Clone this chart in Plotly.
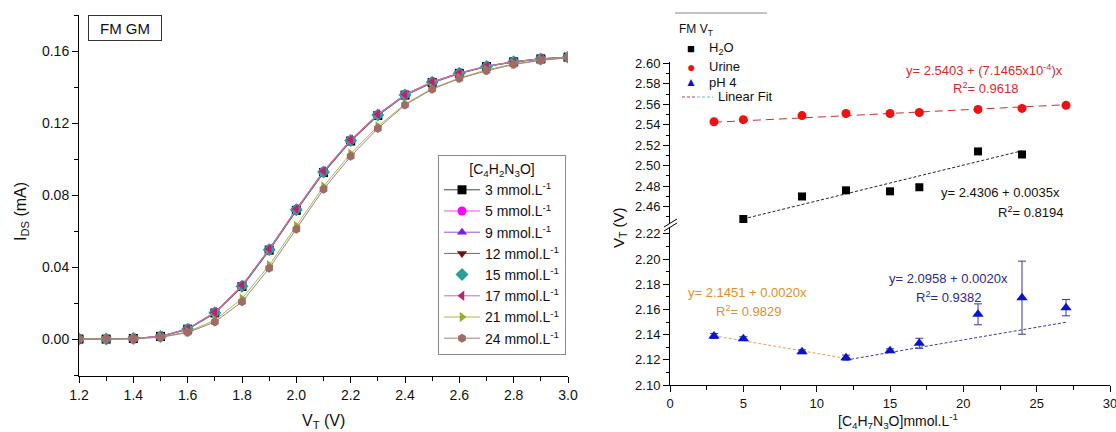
import plotly.graph_objects as go
import numpy as np

# ---------------- Left panel data: I_DS vs V_T ----------------
V = [1.2, 1.3, 1.4, 1.5, 1.6, 1.7, 1.8, 1.9, 2.0, 2.1, 2.2, 2.3, 2.4, 2.5, 2.6, 2.7, 2.8, 2.9, 3.0]
ids_3 = [0.0000, 0.0000, 0.0003, 0.0015, 0.0055, 0.0145, 0.0292, 0.0494, 0.0715, 0.0925, 0.1100, 0.1242, 0.1355, 0.1425, 0.1476, 0.1514, 0.1540, 0.1556, 0.1566]
ids_5 = [0.0000, 0.0000, 0.0003, 0.0016, 0.0058, 0.0150, 0.0298, 0.0500, 0.0722, 0.0932, 0.1106, 0.1248, 0.1359, 0.1429, 0.1478, 0.1516, 0.1541, 0.1557, 0.1566]
ids_9 = [0.0000, 0.0000, 0.0003, 0.0015, 0.0056, 0.0148, 0.0296, 0.0498, 0.0720, 0.0930, 0.1104, 0.1246, 0.1357, 0.1427, 0.1477, 0.1515, 0.1540, 0.1556, 0.1566]
ids_12 = [0.0000, 0.0000, 0.0003, 0.0014, 0.0053, 0.0142, 0.0288, 0.0490, 0.0712, 0.0922, 0.1097, 0.1240, 0.1352, 0.1423, 0.1474, 0.1513, 0.1539, 0.1555, 0.1565]
ids_15 = [0.0000, 0.0000, 0.0003, 0.0015, 0.0055, 0.0146, 0.0294, 0.0496, 0.0718, 0.0928, 0.1103, 0.1244, 0.1355, 0.1426, 0.1476, 0.1514, 0.1540, 0.1556, 0.1566]
ids_17 = [0.0000, 0.0000, 0.0003, 0.0016, 0.0057, 0.0149, 0.0299, 0.0501, 0.0723, 0.0933, 0.1107, 0.1249, 0.1358, 0.1428, 0.1477, 0.1516, 0.1541, 0.1557, 0.1566]
ids_21 = [0.0000, 0.0000, 0.0002, 0.0011, 0.0040, 0.0105, 0.0225, 0.0410, 0.0628, 0.0848, 0.1030, 0.1182, 0.1305, 0.1392, 0.1450, 0.1495, 0.1528, 0.1550, 0.1563]
ids_24 = [0.0000, 0.0000, 0.0002, 0.0010, 0.0036, 0.0095, 0.0207, 0.0393, 0.0610, 0.0832, 0.1015, 0.1170, 0.1300, 0.1388, 0.1447, 0.1490, 0.1525, 0.1548, 0.1562]

series_names = ["3 mmol.L<sup>-1</sup>", "5 mmol.L<sup>-1</sup>", "9 mmol.L<sup>-1</sup>", "12 mmol.L<sup>-1</sup>",
                "15 mmol.L<sup>-1</sup>", "17 mmol.L<sup>-1</sup>", "21 mmol.L<sup>-1</sup>", "24 mmol.L<sup>-1</sup>"]
series_values = [ids_3, ids_5, ids_9, ids_12, ids_15, ids_17, ids_21, ids_24]

# ---------------- Right panel data: V_T vs concentration ----------------
h2o_conc = [5, 9, 12, 15, 17, 21, 24]
h2o_vt = [2.448, 2.470, 2.476, 2.475, 2.479, 2.514, 2.511]

urine_conc = [3, 5, 9, 12, 15, 17, 21, 24, 27]
urine_vt = [2.543, 2.545, 2.549, 2.551, 2.551, 2.552, 2.555, 2.556, 2.559]

ph4_conc = [3, 5, 9, 12, 15, 17, 21, 24, 27]
ph4_vt = [2.1389, 2.1368, 2.1264, 2.1217, 2.1272, 2.1331, 2.1561, 2.1693, 2.1614]
ph4_err = [0.0020, 0.0015, 0.0015, 0.0020, 0.0015, 0.0040, 0.0083, 0.0290, 0.0065]

# Linear fits (intercept, slope, x-span)
urine_fit = (2.5403, 7.1465e-4, [3, 27])
h2o_fit = (2.4306, 0.0035, [5, 24])
ph4_fit_low = (2.1451, -0.0020, [3, 12])
ph4_fit_high = (2.0958, 0.0020, [12, 27])

W, H = 1116, 432
FONT = "Arial, Liberation Sans, Helvetica, sans-serif"


def px(x):
    return x / W


def py(y):
    return 1 - y / H


fig = go.Figure()

# ---------------- Left panel traces ----------------
styles = [
    ("square", "#000000", "#444444"),
    ("circle", "#ff00ff", "#ff44ff"),
    ("triangle-up", "#7b1fe0", "#9a55d0"),
    ("triangle-down", "#7a0c0c", "#a05050"),
    ("diamond", "#2a9d9d", "#55aaaa"),
    ("triangle-left", "#c0206e", "#d070a0"),
    ("triangle-right", "#9aaa2a", "#a8b850"),
    ("hexagon", "#a06c68", "#a08080"),
]
for name, vals, (sym, mc, lc) in zip(series_names, series_values, styles):
    if sym == "diamond":
        fig.add_trace(go.Scatter(x=V, y=vals, mode="lines", line=dict(color=lc, width=1),
                                 showlegend=False, xaxis="x", yaxis="y", hoverinfo="skip"))
        fig.add_trace(go.Scatter(x=V, y=vals, mode="markers", name=name,
                                 marker=dict(symbol=sym, size=10, color=mc),
                                 xaxis="x", yaxis="y"))
    else:
        fig.add_trace(go.Scatter(x=V, y=vals, mode="lines+markers", name=name,
                                 marker=dict(symbol=sym, size=9, color=mc),
                                 line=dict(color=lc, width=1), xaxis="x", yaxis="y"))

# ---------------- Right panel traces ----------------
def fit_xy(fit):
    a, b, span = fit
    xs = np.array(span, dtype=float)
    return xs, a + b * xs


fx, fy = fit_xy(urine_fit)
fig.add_trace(go.Scatter(x=fx, y=fy, mode="lines", line=dict(color="#c83030", width=1, dash="8px,5px"),
                         showlegend=False, xaxis="x2", yaxis="y3"))
fx, fy = fit_xy(h2o_fit)
fig.add_trace(go.Scatter(x=fx, y=fy, mode="lines", line=dict(color="#222222", width=1, dash="3px,2px"),
                         showlegend=False, xaxis="x2", yaxis="y3"))
fx, fy = fit_xy(ph4_fit_low)
fig.add_trace(go.Scatter(x=fx, y=fy, mode="lines", line=dict(color="#e0a050", width=1, dash="3px,2px"),
                         showlegend=False, xaxis="x2", yaxis="y2"))
fx, fy = fit_xy(ph4_fit_high)
fig.add_trace(go.Scatter(x=fx, y=fy, mode="lines", line=dict(color="#3a3aa0", width=1, dash="3px,2px"),
                         showlegend=False, xaxis="x2", yaxis="y2"))

fig.add_trace(go.Scatter(x=h2o_conc, y=h2o_vt, mode="markers", name="H<sub>2</sub>O",
                         marker=dict(symbol="square", size=8, color="#000000"), cliponaxis=False,
                         showlegend=False, xaxis="x2", yaxis="y3"))
fig.add_trace(go.Scatter(x=urine_conc, y=urine_vt, mode="markers", name="Urine",
                         marker=dict(symbol="circle", size=9, color="#ee1111"),
                         showlegend=False, xaxis="x2", yaxis="y3"))
fig.add_trace(go.Scatter(x=ph4_conc, y=ph4_vt, mode="markers", name="pH 4",
                         marker=dict(symbol="triangle-up", size=10, color="#0a14d0"),
                         error_y=dict(type="data", array=ph4_err, color="#3a3a9a", thickness=1, width=4),
                         showlegend=False, xaxis="x2", yaxis="y2"))

axis_common = dict(showline=True, linecolor="black", linewidth=1, showgrid=False, zeroline=False,
                   ticks="outside", ticklen=6, tickcolor="black", tickwidth=1, automargin=False,
                   ticklabeloverflow="allow")

fig.update_layout(
    template="none",
    width=W, height=H, autosize=False,
    margin=dict(l=0, r=0, t=0, b=0, autoexpand=False),
    paper_bgcolor="white", plot_bgcolor="white",
    font=dict(family=FONT, color="#111111"),
    xaxis=dict(domain=[px(79), px(568)], range=[1.2, 3.0], tick0=1.2, dtick=0.2, tickformat=".1f",
               anchor="y", tickfont=dict(size=14),
               minor=dict(dtick=0.1, ticks="outside", ticklen=4, tickcolor="black"), **axis_common),
    yaxis=dict(domain=[py(376), py(15)], range=[-0.0205, 0.1800], tick0=0, dtick=0.04, tickformat=".2f",
               anchor="x", tickfont=dict(size=14),
               minor=dict(dtick=0.02, ticks="outside", ticklen=4, tickcolor="black"), **axis_common),
    xaxis2=dict(domain=[px(670), px(1110)], range=[0, 30], tick0=0, dtick=5, anchor="y2",
                tickfont=dict(size=13),
                minor=dict(dtick=2.5, ticks="outside", ticklen=4, tickcolor="black"), **axis_common),
    yaxis2=dict(domain=[py(385), py(227)], range=[2.10, 2.2254], tick0=2.10, dtick=0.02, tickformat=".2f",
                anchor="x2", tickfont=dict(size=13),
                minor=dict(dtick=0.01, ticks="outside", ticklen=3, tickcolor="black"), **axis_common),
    yaxis3=dict(domain=[py(223), py(62.3)], range=[2.4441, 2.601], tick0=2.46, dtick=0.02, tickformat=".2f",
                anchor="x2", tickfont=dict(size=13),
                minor=dict(dtick=0.01, ticks="outside", ticklen=3, tickcolor="black"), **axis_common),
    legend=dict(x=px(438), y=py(155), xanchor="left", yanchor="top",
                bordercolor="#8a8a8a", borderwidth=1, bgcolor="white",
                font=dict(size=14, family=FONT, color="#111111"),
                title=dict(text="[C<sub>4</sub>H<sub>2</sub>N<sub>3</sub>O]", side="top center",
                           font=dict(size=14, family=FONT)),
                itemwidth=36,
                tracegroupgap=0),
)

ann = []
# Axis titles
ann.append(dict(text="I<sub>DS</sub> (mA)", x=px(22), y=py(212), textangle=-90, font=dict(size=16)))
ann.append(dict(text="V<sub>T</sub> (V)", x=px(323), y=py(421), font=dict(size=16)))
ann.append(dict(text="V<sub>T</sub> (V)", x=px(619), y=py(228), textangle=-90, font=dict(size=15)))
ann.append(dict(text="[C<sub>4</sub>H<sub>7</sub>N<sub>3</sub>O]mmol.L<sup>-1</sup>", x=px(898), y=py(421),
                font=dict(size=14)))
# FM GM label box
ann.append(dict(text="FM GM", x=px(125), y=py(28), font=dict(size=15), bordercolor="#333333",
                borderwidth=1, width=70, height=22, bgcolor="white"))
# Right legend (manual)
ann.append(dict(text="FM V<sub>T</sub>", x=px(677), y=py(30), xanchor="left", font=dict(size=12)))
ann.append(dict(text="■", x=px(691), y=py(48), font=dict(size=13, color="#000000")))
ann.append(dict(text="H<sub>2</sub>O", x=px(707), y=py(48), xanchor="left", font=dict(size=13)))
ann.append(dict(text="●", x=px(691), y=py(67), font=dict(size=14, color="#ee1111")))
ann.append(dict(text="Urine", x=px(707), y=py(67), xanchor="left", font=dict(size=13)))
ann.append(dict(text="▲", x=px(691), y=py(82), font=dict(size=12, color="#0a14d0")))
ann.append(dict(text="pH 4", x=px(707), y=py(82), xanchor="left", font=dict(size=13)))
ann.append(dict(text="Linear Fit", x=px(716), y=py(97), xanchor="left", font=dict(size=13)))
# Fit equations
ann.append(dict(text="y= 2.5403 + (7.1465x10<sup>-4</sup>)x", x=px(984), y=py(70), font=dict(size=13, color="#d82a2a")))
ann.append(dict(text="R<sup>2</sup>= 0.9618", x=px(985), y=py(88), font=dict(size=13, color="#d82a2a")))
ann.append(dict(text="y= 2.4306 + 0.0035x", x=px(1000), y=py(192), font=dict(size=13, color="#111111")))
ann.append(dict(text="R<sup>2</sup>= 0.8194", x=px(1030), y=py(212), font=dict(size=13, color="#111111")))
ann.append(dict(text="y= 2.1451 + 0.0020x", x=px(747), y=py(292), font=dict(size=13, color="#e0902a")))
ann.append(dict(text="R<sup>2</sup>= 0.9829", x=px(748), y=py(311), font=dict(size=13, color="#e0902a")))
ann.append(dict(text="y= 2.0958 + 0.0020x", x=px(949), y=py(278), font=dict(size=13, color="#2a2a90")))
ann.append(dict(text="R<sup>2</sup>= 0.9382", x=px(948), y=py(297), font=dict(size=13, color="#2a2a90")))

for a in ann:
    a.setdefault("xref", "paper")
    a.setdefault("yref", "paper")
    a.setdefault("showarrow", False)
    a.setdefault("xanchor", "center")
    a.setdefault("yanchor", "middle")
fig.update_layout(annotations=ann)

shapes = [
    # thin line above right legend
    dict(type="line", x0=px(675), x1=px(767), y0=py(13), y1=py(13), line=dict(color="#888888", width=1)),
    # linear fit legend symbol
    dict(type="line", x0=px(682), x1=px(697), y0=py(97), y1=py(97), line=dict(color="#b04060", width=1, dash="3px,2px")),
    dict(type="line", x0=px(697), x1=px(713), y0=py(97), y1=py(97), line=dict(color="#60c0e0", width=1, dash="3px,2px")),
    # axis break marks
    dict(type="line", x0=px(664), x1=px(677), y0=py(231), y1=py(223), line=dict(color="black", width=1)),
    dict(type="line", x0=px(664), x1=px(677), y0=py(227), y1=py(219), line=dict(color="black", width=1)),
]
for s in shapes:
    s["xref"] = "paper"
    s["yref"] = "paper"
fig.update_layout(shapes=shapes)

# remove the browser's default page margin so the 1116x432 figure fills the window exactly
fig.write_html("out.html", config={"displayModeBar": False},
               post_script="document.body.style.margin='0';document.body.style.overflow='hidden';")
